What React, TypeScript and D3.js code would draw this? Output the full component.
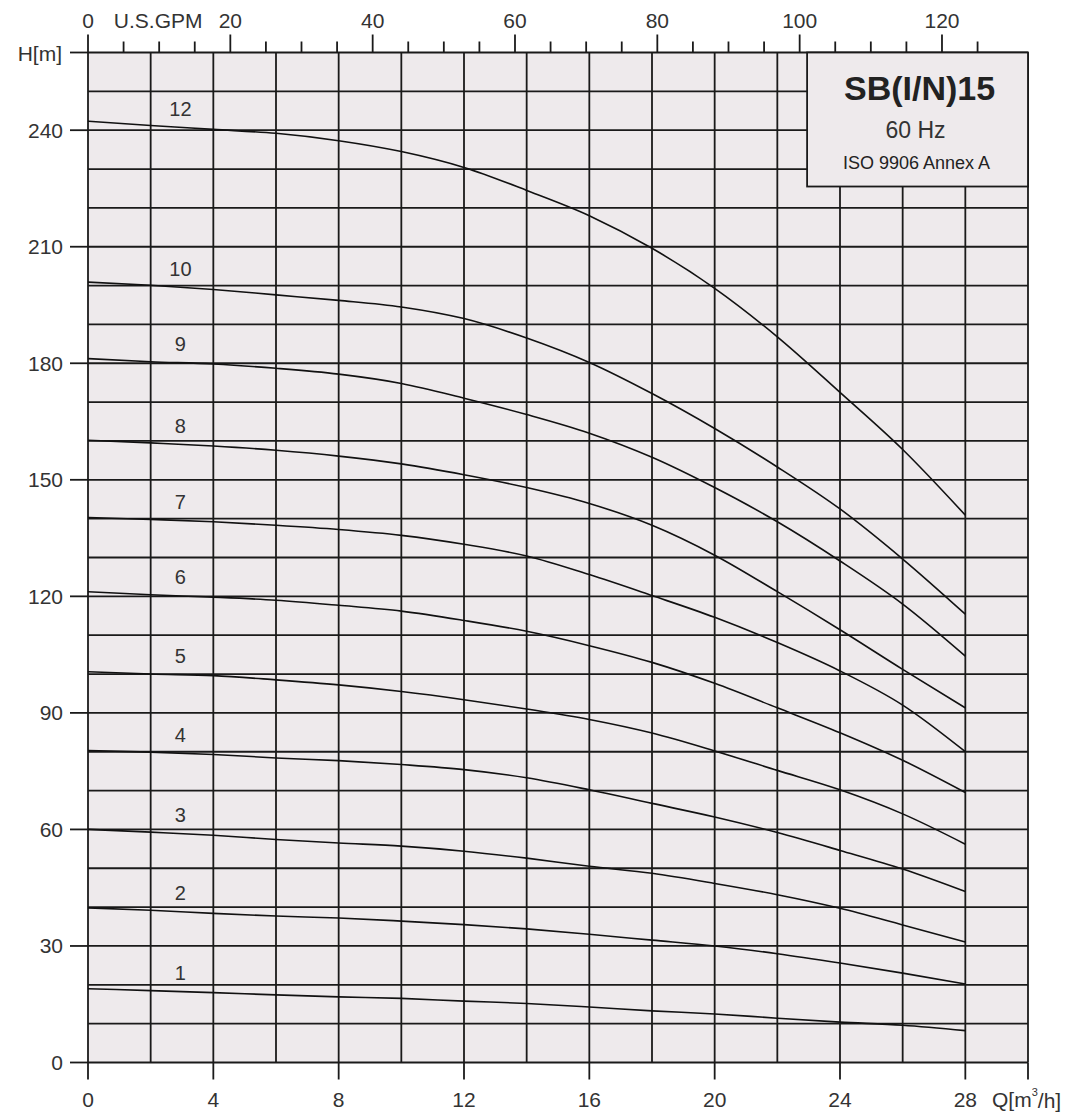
import React from "react";
import * as d3 from "d3";

// flow points (m3/h) where the curves were read
const FLOW = [0, 2, 4, 6, 8, 10, 12, 14, 16, 18, 20, 22, 24, 26, 28];

// head H[m] per number of stages
const H1 = [19.0, 18.5, 18.0, 17.4, 16.9, 16.5, 15.8, 15.2, 14.3, 13.3, 12.5, 11.4, 10.4, 9.6, 8.2];
const H2 = [39.8, 39.2, 38.4, 37.7, 37.2, 36.4, 35.5, 34.4, 33.0, 31.5, 30.0, 28.0, 25.6, 23.0, 20.2];
const H3 = [60.0, 59.3, 58.5, 57.4, 56.5, 55.7, 54.4, 52.6, 50.5, 48.7, 46.1, 43.2, 39.7, 35.4, 31.0];
const H4 = [80.3, 79.9, 79.3, 78.4, 77.7, 76.7, 75.4, 73.3, 70.2, 66.7, 63.2, 59.2, 54.6, 49.8, 44.0];
const H5 = [100.6, 100.0, 99.6, 98.5, 97.2, 95.5, 93.4, 91.0, 88.3, 84.8, 80.2, 75.2, 70.2, 64.0, 56.2];
const H6 = [121.2, 120.4, 119.8, 119.0, 117.7, 116.2, 113.8, 111.0, 107.3, 103.0, 97.6, 91.3, 84.9, 77.8, 69.5];
const H7 = [140.3, 139.8, 139.2, 138.3, 137.2, 135.7, 133.4, 130.4, 125.6, 120.2, 114.6, 108.1, 100.8, 92.0, 80.0];
const H8 = [160.2, 159.5, 158.7, 157.6, 156.1, 154.1, 151.3, 148.0, 143.9, 138.3, 130.6, 121.2, 111.4, 101.2, 91.3];
const H9 = [181.2, 180.4, 179.8, 178.7, 177.2, 174.8, 171.0, 166.8, 162.0, 155.8, 148.0, 139.2, 129.1, 118.0, 104.6];
const H10 = [200.9, 200.1, 199.0, 197.6, 196.2, 194.5, 191.5, 186.5, 180.2, 172.2, 163.2, 153.3, 142.5, 129.6, 115.4];
const H12 = [242.3, 241.2, 240.2, 239.2, 237.3, 234.5, 230.4, 224.5, 218.0, 209.6, 199.3, 186.8, 172.5, 157.8, 140.9];

const STAGES = ["1", "2", "3", "4", "5", "6", "7", "8", "9", "10", "12"];
const HEADS = [H1, H2, H3, H4, H5, H6, H7, H8, H9, H10, H12];

const Q_TICKS = [0, 4, 8, 12, 16, 20, 24, 28];
const H_TICKS = [0, 30, 60, 90, 120, 150, 180, 210, 240];
const GPM_LABELS = [0, 20, 40, 60, 80, 100, 120];

const TITLE = "SB(I/N)15";
const SUBTITLE = "60 Hz";
const NOTE = "ISO 9906 Annex A";

const GPM_PER_M3H = 4.40287;

export default function App() {
  const width = 1074;
  const height = 1114;
  const margin = { top: 52.5, right: 46, bottom: 51.5, left: 88 };

  const x = d3.scaleLinear().domain([0, 30]).range([margin.left, width - margin.right]);
  const y = d3.scaleLinear().domain([0, 260]).range([height - margin.bottom, margin.top]);

  const line = d3
    .line<number>()
    .x((_, i) => x(FLOW[i]))
    .y((d) => y(d))
    .curve(d3.curveMonotoneX);

  const gridX = d3.range(0, 31, 2);
  const gridY = d3.range(0, 261, 10);
  const gpmTicks = d3.range(0, 126, 5);

  const font = "'Liberation Sans', Arial, sans-serif";
  const textColor = "#333";
  const gridColor = "#1a1a1a";
  const sw = 1.8;

  // info box sits in the top right corner of the grid
  const boxX0 = x(22.95);
  const boxY1 = y(225.5);

  return (
    <svg
      width={width}
      height={height}
      style={{ position: "absolute", left: 0, top: 0, background: "#fff" }}
      fontFamily={font}
    >
      <rect
        x={x(0)}
        y={y(260)}
        width={x(30) - x(0)}
        height={y(0) - y(260)}
        fill="#eeeaec"
      />

      {/* grid */}
      {gridX.map((q) => (
        <line key={"gx" + q} x1={x(q)} x2={x(q)} y1={y(0)} y2={y(260)} stroke={gridColor} strokeWidth={sw} />
      ))}
      {gridY.map((h) => (
        <line key={"gy" + h} x1={x(0)} x2={x(30)} y1={y(h)} y2={y(h)} stroke={gridColor} strokeWidth={sw} />
      ))}

      {/* curves */}
      {HEADS.map((hs, i) => (
        <path key={"c" + i} d={line(hs) || ""} fill="none" stroke="#111" strokeWidth={1.6} />
      ))}
      {HEADS.map((hs, i) => (
        <text
          key={"l" + i}
          x={x(2.95)}
          y={y((hs[1] + hs[2]) / 2 + 4.8)}
          textAnchor="middle"
          dominantBaseline="central"
          fontSize={20}
          fill={textColor}
        >
          {STAGES[i]}
        </text>
      ))}

      {/* left axis */}
      {H_TICKS.map((h) => (
        <g key={"ht" + h}>
          <line x1={x(0) - 18} x2={x(0)} y1={y(h)} y2={y(h)} stroke={gridColor} strokeWidth={sw} />
          <text x={x(0) - 25} y={y(h)} textAnchor="end" dominantBaseline="central" fontSize={21} fill={textColor}>
            {h}
          </text>
        </g>
      ))}
      <line x1={x(0) - 18} x2={x(0)} y1={y(260)} y2={y(260)} stroke={gridColor} strokeWidth={sw} />
      <text x={x(0) - 26} y={y(260) + 1} textAnchor="end" dominantBaseline="central" fontSize={21} fill={textColor}>
        H[m]
      </text>

      {/* bottom axis */}
      {[...Q_TICKS, 30].map((q) => (
        <line key={"qt" + q} x1={x(q)} x2={x(q)} y1={y(0)} y2={y(0) + 17} stroke={gridColor} strokeWidth={sw} />
      ))}
      {Q_TICKS.map((q) => (
        <text key={"ql" + q} x={x(q)} y={y(0) + 37} textAnchor="middle" dominantBaseline="central" fontSize={21} fill={textColor}>
          {q}
        </text>
      ))}
      <text x={x(30) - 36} y={y(0) + 37} dominantBaseline="central" fontSize={21} fill={textColor}>
        Q[m
        <tspan fontSize={11} dy={-8}>
          3
        </tspan>
        <tspan dy={8}>/h]</tspan>
      </text>

      {/* top axis, U.S. GPM */}
      {gpmTicks.map((g) => (
        <line
          key={"gt" + g}
          x1={x(g / GPM_PER_M3H)}
          x2={x(g / GPM_PER_M3H)}
          y1={y(260)}
          y2={y(260) - (g % 20 === 0 ? 18 : 11)}
          stroke={gridColor}
          strokeWidth={sw}
        />
      ))}
      {GPM_LABELS.map((g) => (
        <text
          key={"gl" + g}
          x={x(g / GPM_PER_M3H)}
          y={20}
          textAnchor="middle"
          dominantBaseline="central"
          fontSize={21}
          fill={textColor}
        >
          {g}
        </text>
      ))}
      <text x={(x(0) + x(20 / GPM_PER_M3H)) / 2 - 1} y={20} textAnchor="middle" dominantBaseline="central" fontSize={21} fill={textColor}>
        U.S.GPM
      </text>

      {/* info box */}
      <rect
        x={boxX0}
        y={y(260)}
        width={x(30) - boxX0}
        height={boxY1 - y(260)}
        fill="#eeeaec"
        stroke={gridColor}
        strokeWidth={sw}
      />
      <text x={(boxX0 + x(30)) / 2 + 2} y={y(260) + 35} textAnchor="middle" dominantBaseline="central" fontSize={34} fontWeight="bold" fill="#222">
        {TITLE}
      </text>
      <text x={(boxX0 + x(30)) / 2 - 2} y={y(260) + 77} textAnchor="middle" dominantBaseline="central" fontSize={23} fill={textColor}>
        {SUBTITLE}
      </text>
      <text x={(boxX0 + x(30)) / 2 - 1} y={y(260) + 110} textAnchor="middle" dominantBaseline="central" fontSize={18} fill="#222">
        {NOTE}
      </text>
    </svg>
  );
}
